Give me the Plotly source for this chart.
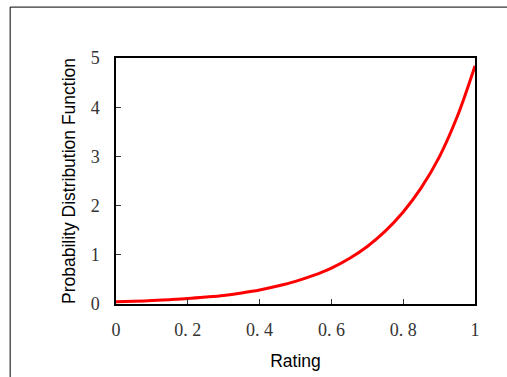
import plotly.graph_objects as go

# Data
rating = [0.0, 0.05, 0.1, 0.15, 0.2, 0.25, 0.3, 0.35, 0.4, 0.45, 0.5,
          0.55, 0.6, 0.65, 0.7, 0.75, 0.8, 0.85, 0.9, 0.95, 1.0]
pdf = [0.044, 0.055, 0.07, 0.088, 0.11, 0.14, 0.175, 0.225, 0.285, 0.365, 0.46,
       0.58, 0.73, 0.925, 1.17, 1.48, 1.87, 2.36, 2.98, 3.80, 4.84]

x_tickvals = [0, 0.2, 0.4, 0.6, 0.8, 1]
x_ticktext = ["0", "0. 2", "0. 4", "0. 6", "0. 8", "1"]
y_tickvals = [0, 1, 2, 3, 4, 5]
y_ticktext = ["0", "1", "2", "3", "4", "5"]

W, H = 507, 377
L, R, T, B = 115.5, 32, 57.5, 73

fig = go.Figure()
fig.add_trace(go.Scatter(x=rating, y=pdf, mode="lines",
                         line=dict(color="#ff0000", width=3, shape="spline", smoothing=1),
                         showlegend=False, hoverinfo="skip"))

tickfont = dict(family="Liberation Serif, DejaVu Serif, serif", size=18, color="#333333")
titlefont = dict(family="Liberation Sans, Arial, sans-serif", size=17.5, color="black")

fig.update_layout(
    width=W, height=H,
    margin=dict(l=L, r=R, t=T, b=B, pad=0, autoexpand=False),
    paper_bgcolor="white", plot_bgcolor="white",
    xaxis=dict(range=[0, 1], tickvals=x_tickvals, ticktext=x_ticktext,
               showgrid=False, zeroline=False, showline=True, mirror=True,
               linecolor="black", linewidth=1.5, ticks="inside", ticklen=5,
               tickcolor="#333333", tickwidth=1, tickfont=tickfont,
               ticklabelstandoff=9, automargin=False,
               title=dict(text="Rating", font=titlefont, standoff=15)),
    yaxis=dict(range=[0, 5], tickvals=y_tickvals, ticktext=y_ticktext,
               showgrid=False, zeroline=False, showline=True, mirror=True,
               linecolor="black", linewidth=1.5, ticks="inside", ticklen=5,
               tickcolor="#333333", tickwidth=1, tickfont=tickfont,
               ticklabelstandoff=11, automargin=False,
               title=dict(text="Probability Distribution Function", font=titlefont, standoff=11)),
)

pw = W - L - R
ph = H - T - B
def px_to_paper_x(px):
    return (px - L) / pw
def px_to_paper_y(py):
    return 1 - (py - T) / ph

# outer frame (left and top edges visible)
fig.add_shape(type="line", xref="paper", yref="paper",
              x0=px_to_paper_x(9.5), x1=px_to_paper_x(9.5),
              y0=px_to_paper_y(6.5), y1=px_to_paper_y(380),
              line=dict(color="black", width=1))
fig.add_shape(type="line", xref="paper", yref="paper",
              x0=px_to_paper_x(9.5), x1=px_to_paper_x(510),
              y0=px_to_paper_y(6.5), y1=px_to_paper_y(6.5),
              line=dict(color="black", width=1))

fig.write_html("out.html")
